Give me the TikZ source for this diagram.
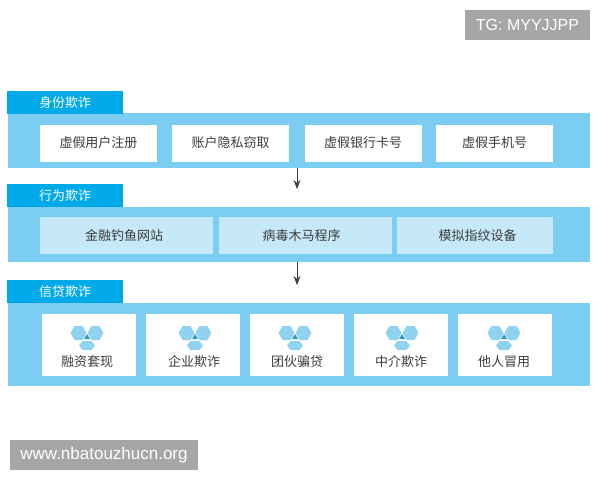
\documentclass[tikz,border=0pt]{standalone}
\usepackage{fontspec}
\usetikzlibrary{arrows.meta}
\setmainfont{Noto Sans CJK SC}
\newfontfamily\markfont{Liberation Sans}
\definecolor{panelblue}{HTML}{7BCEF2}
\definecolor{tabblue}{HTML}{00A9E8}
\definecolor{paleblue}{HTML}{C6E9F9}
\definecolor{hexblue}{HTML}{8FD3F1}
\definecolor{tipblue}{HTML}{2A9CCB}
\definecolor{labelgray}{HTML}{3C3C3C}
\definecolor{markgray}{HTML}{A6A6A6}
\tikzset{
  panel/.style={fill=panelblue, inner sep=0pt},
  tab/.style={fill=tabblue, text=white, inner sep=0pt, minimum width=116pt, minimum height=23pt, font=\fontsize{13}{15}\selectfont},
  cardbox/.style={fill=white, text=labelgray, inner sep=0pt, minimum width=117pt, minimum height=37pt, font=\fontsize{13}{15}\selectfont},
  palebox/.style={fill=paleblue, inner sep=0pt, minimum height=37pt},
  iconbox/.style={fill=white, inner sep=0pt, minimum width=94pt, minimum height=62pt},
  iconlabel/.style={text=labelgray, inner sep=0pt, font=\fontsize{13}{15}\selectfont},
  markbox/.style={fill=markgray, text=white, inner sep=0pt, minimum height=30pt, font=\markfont\fontsize{16}{18}\selectfont},
  hexicon/.pic={
    \fill [hexblue] (-16.5,-4) -- (-12.5,-11) -- (-4.5,-11) -- (-0.5,-4) -- (-4.5,3) -- (-12.5,3) -- cycle;
    \fill [hexblue] (0.5,-4) -- (4.5,-11) -- (12.5,-11) -- (16.5,-4) -- (12.5,3) -- (4.5,3) -- cycle;
    \fill [hexblue] (-8,8.5) -- (-4.5,4) -- (4.5,4) -- (8,8.5) -- (4.5,13) -- (-4.5,13) -- cycle;
    \fill [tipblue] (-3,2) -- (0,-3) -- (3,2) -- cycle;
  }
}
\begin{document}
\begin{tikzpicture}[x=1pt, y=-1pt]
  \useasboundingbox (0,0) rectangle (600,480);

  % top layer
  \node [panel, minimum width=582pt, minimum height=55pt] (idpanel) at (298.5,140.5) {};
  \node [tab] (idtab) at (65,102.5) {身份欺诈};
  \node [cardbox] (idcarda) at (98.5,143) {虚假用户注册};
  \node [cardbox] (idcardb) at (230.5,143) {账户隐私窃取};
  \node [cardbox] (idcardc) at (363,143) {虚假银行卡号};
  \node [cardbox] (idcardd) at (494.5,143) {虚假手机号};

  % middle layer
  \node [panel, minimum width=582pt, minimum height=55pt] (actpanel) at (298.5,234.5) {};
  \node [tab] (acttab) at (65,195.5) {行为欺诈};
  \node [palebox, minimum width=173pt] (actboxa) at (126.5,235.5) {};
  \node [palebox, minimum width=173pt] (actboxb) at (305.5,235.5) {};
  \node [palebox, minimum width=156pt] (actboxc) at (475,235.5) {};
  \node [iconlabel] (actlabela) at (124,235.5) {金融钓鱼网站};
  \node [iconlabel] (actlabelb) at (301.5,235.5) {病毒木马程序};
  \node [iconlabel] (actlabelc) at (477.5,235.5) {模拟指纹设备};

  % bottom layer
  \node [panel, minimum width=582pt, minimum height=83pt] (loanpanel) at (298.5,344.5) {};
  \node [tab] (loantab) at (65,291.5) {信贷欺诈};
  \node [iconbox] (loanboxa) at (89,345) {};
  \node [iconbox] (loanboxb) at (193,345) {};
  \node [iconbox] (loanboxc) at (297,345) {};
  \node [iconbox] (loanboxd) at (401,345) {};
  \node [iconbox] (loanboxe) at (505,345) {};
  \pic at (87,337) {hexicon};
  \pic at (195,337) {hexicon};
  \pic at (295,337) {hexicon};
  \pic at (402,337) {hexicon};
  \pic at (504,337) {hexicon};
  \node [iconlabel] (loanlabela) at (87,362) {融资套现};
  \node [iconlabel] (loanlabelb) at (194,362) {企业欺诈};
  \node [iconlabel] (loanlabelc) at (297,362) {团伙骗贷};
  \node [iconlabel] (loanlabeld) at (401,362) {中介欺诈};
  \node [iconlabel] (loanlabele) at (504,362) {他人冒用};

  % arrows between layers
  \coordinate (arrowa) at (297,189);
  \coordinate (arrowb) at (297,285);
  \draw [-{Stealth[length=9pt,width=7pt]}, line width=0.9pt, labelgray] (idpanel.south -| arrowa) -- (arrowa);
  \draw [-{Stealth[length=9pt,width=7pt]}, line width=0.9pt, labelgray] (actpanel.south -| arrowb) -- (arrowb);

  % corner marks
  \node [markbox, minimum width=125pt] (tgmark) at (527.5,25) {TG: MYYJJPP};
  \node [markbox, minimum width=188pt, font=\markfont\fontsize{17}{19}\selectfont] (webmark) at (104,455) {www.nbatouzhucn.org};
\end{tikzpicture}
\end{document}
